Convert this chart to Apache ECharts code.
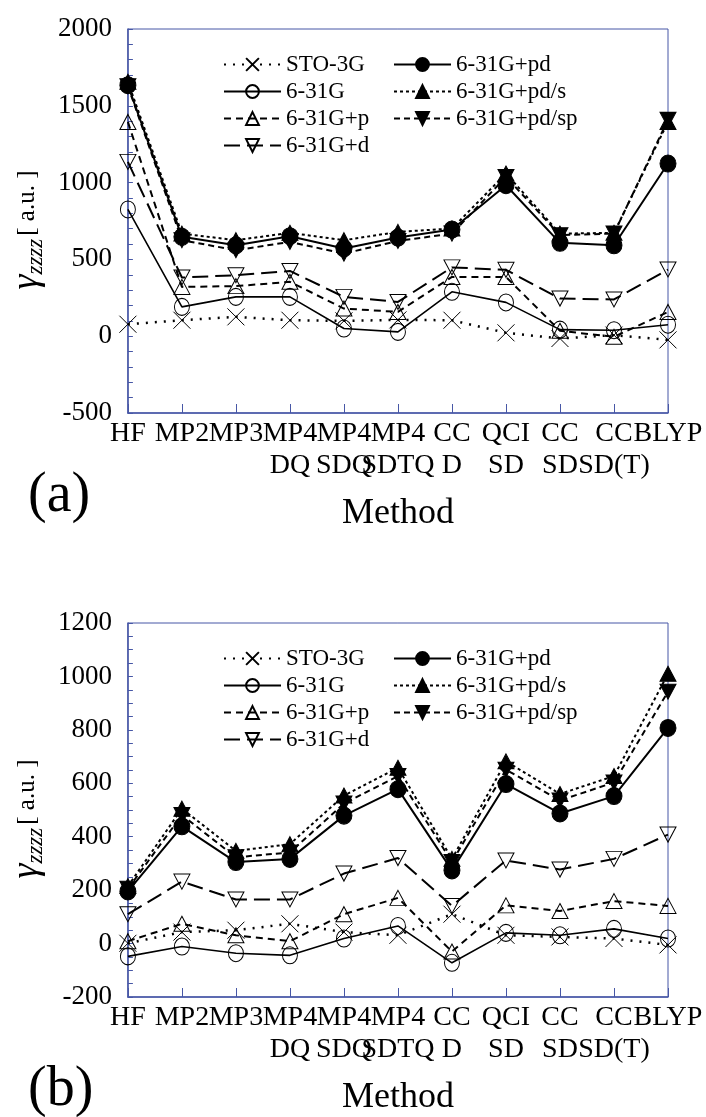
<!DOCTYPE html>
<html>
<head>
<meta charset="utf-8" />
<title>gamma zzzz vs method</title>
<script src="https://cdn.jsdelivr.net/npm/echarts@6/dist/echarts.min.js"></script>
<style>
  html, body { margin: 0; padding: 0; background: #fff; }
  #main { width: 706px; height: 1117px; }
</style>
</head>
<body>
<div id="main"></div>
<script type="text/javascript">

// categories (two-line labels)
var methods = ['HF', 'MP2', 'MP3', 'MP4\nDQ', 'MP4\nSDQ', 'MP4\nSDTQ', 'CC\nD', 'QCI\nSD', 'CC\nSD', 'CC\nSD(T)', 'BLYP'];
var basisNames = ['STO-3G', '6-31G', '6-31G+p', '6-31G+d', '6-31G+pd', '6-31G+pd/s', '6-31G+pd/sp'];

// panel (a)
var a_sto3g  = [78, 104, 126, 104, 100, 106, 104, 22, -15, 7, -24];
var a_631g   = [825, 191, 256, 256, 50, 28, 289, 220, 43, 39, 75];
var a_p      = [1395, 321, 326, 354, 180, 158, 386, 386, 35, -4, 158];
var a_d      = [1135, 382, 397, 425, 256, 223, 448, 432, 245, 239, 434];
var a_pd     = [1634, 647, 592, 651, 571, 642, 694, 983, 608, 592, 1124];
var a_pds    = [1656, 668, 625, 673, 625, 679, 701, 1059, 668, 673, 1395];
var a_pdsp   = [1628, 625, 560, 614, 538, 620, 668, 1037, 658, 668, 1410];

// panel (b)
var b_sto3g  = [1, 43, 50, 74, 43, 31, 110, 31, 25, 19, -5];
var b_631g   = [-48, -11, -36, -44, 19, 66, -72, 40, 31, 55, 19];
var b_p      = [9, 74, 31, 9, 110, 171, -30, 143, 122, 159, 141];
var b_d      = [110, 232, 165, 165, 262, 320, 141, 311, 277, 317, 408];
var b_pd     = [195, 439, 305, 317, 479, 578, 274, 597, 487, 552, 807];
var b_pds    = [215, 505, 347, 372, 554, 658, 317, 682, 560, 627, 1010];
var b_pdsp   = [205, 481, 323, 341, 524, 627, 305, 651, 536, 603, 943];

// y axis ticks
var a_yTicks = { min: -500, max: 2000, step: 500 };
var b_yTicks = { min: -200, max: 1200, step: 200 };

var FONT = '"Liberation Serif", "Times New Roman", serif';
var AXIS_BLUE = '#4757a6';
var SHIFT = 594;   // vertical offset of panel (b)

var symX = 'path://M0,0L16,16M16,0L0,16';
var symUp = 'path://M9,0L18,16L0,16Z';
var symDown = 'path://M0,0L18,0L9,16Z';

var open = { color: 'rgba(0,0,0,0)', borderColor: '#000', borderWidth: 1 };
var filled = { color: '#000', borderColor: '#000', borderWidth: 1 };

var styles = {
    'STO-3G':      { symbol: symX, size: [17, 17], item: open, line: { type: [2, 7], width: 2.5 } },
    '6-31G':       { symbol: 'circle', size: [15, 17], item: open, line: { type: 'solid', width: 1.6 } },
    '6-31G+p':     { symbol: symUp, size: [16, 15], item: open, line: { type: [7, 5], width: 2 } },
    '6-31G+d':     { symbol: symDown, size: [16, 15], item: open, line: { type: [16, 7], width: 2 } },
    '6-31G+pd':    { symbol: 'circle', size: [16, 17], item: filled, line: { type: 'solid', width: 2 } },
    '6-31G+pd/s':  { symbol: symUp, size: [16, 15], item: filled, line: { type: [3, 3], width: 2 } },
    '6-31G+pd/sp': { symbol: symDown, size: [16, 15], item: filled, line: { type: [6, 4], width: 2 } }
};

function makeSeries(name, data, idx) {
    var st = styles[name];
    return {
        name: name,
        type: 'line',
        xAxisIndex: idx,
        yAxisIndex: idx,
        data: data,
        symbol: st.symbol,
        symbolSize: st.size,
        showAllSymbol: true,
        itemStyle: st.item,
        lineStyle: { color: '#000', width: st.line.width, type: st.line.type },
        emphasis: { disabled: true }
    };
}

function makeX(idx) {
    return {
        type: 'category',
        gridIndex: idx,
        data: methods,
        boundaryGap: false,
        axisLine: { onZero: false, lineStyle: { color: AXIS_BLUE, width: 1.5 } },
        axisTick: { inside: true, length: 9, lineStyle: { color: AXIS_BLUE } },
        axisLabel: { interval: 0, color: '#000', fontFamily: FONT, fontSize: 28, lineHeight: 32, margin: 5 },
        splitLine: { show: false },
        name: 'Method',
        nameLocation: 'middle',
        nameGap: 83,
        nameTextStyle: { color: '#000', fontFamily: FONT, fontSize: 36 }
    };
}

function makeY(idx, t, minorSplit) {
    return {
        type: 'value',
        gridIndex: idx,
        min: t.min,
        max: t.max,
        interval: t.step,
        axisLine: { show: true, onZero: false, lineStyle: { color: AXIS_BLUE, width: 1.5 } },
        axisTick: { show: true, inside: true, length: 5, lineStyle: { color: AXIS_BLUE } },
        minorTick: { show: true, splitNumber: minorSplit, length: 5, lineStyle: { color: AXIS_BLUE } },
        axisLabel: {
            color: '#000', fontFamily: FONT, fontSize: 27, margin: 16,
            formatter: function (v) { return String(v); }
        },
        splitLine: { show: false },
        name: '{g|γ}{s|zzzz} {n|[ a.u. ]}',
        nameLocation: 'middle',
        nameGap: 74,
        nameTextStyle: {
            color: '#000',
            fontFamily: FONT,
            padding: [0, 18, 0, 0],
            rich: {
                g: { fontSize: 38, fontStyle: 'italic', fontFamily: FONT, lineHeight: 40 },
                s: { fontSize: 23, fontStyle: 'italic', fontFamily: FONT, lineHeight: 22, verticalAlign: 'bottom' },
                n: { fontSize: 25, fontFamily: FONT, lineHeight: 25 }
            }
        }
    };
}

function makeLegend(names, left, top) {
    return {
        orient: 'vertical',
        left: left,
        top: top,
        padding: 0,
        itemWidth: 57,
        itemHeight: 16,
        itemGap: 4,
        selectedMode: false,
        data: names,
        textStyle: { color: '#000', fontFamily: FONT, fontSize: 23, lineHeight: 22 }
    };
}

var col1 = ['STO-3G', '6-31G', '6-31G+p', '6-31G+d'];
var col2 = ['6-31G+pd', '6-31G+pd/s', '6-31G+pd/sp'];

var aData = [a_sto3g, a_631g, a_p, a_d, a_pd, a_pds, a_pdsp];
var bData = [b_sto3g, b_631g, b_p, b_d, b_pd, b_pds, b_pdsp];

var series = [];
basisNames.forEach(function (n, i) { series.push(makeSeries(n, aData[i], 0)); });
basisNames.forEach(function (n, i) { series.push(makeSeries(n, bData[i], 1)); });

var myChart = echarts.init(document.getElementById('main'));

var option = {
    animation: false,
    backgroundColor: '#fff',
    grid: [
        { left: 105, top: 29, width: 563, height: 384, show: true, borderColor: AXIS_BLUE, borderWidth: 1 },
        { left: 105, top: 29 + SHIFT, width: 563, height: 384, show: true, borderColor: AXIS_BLUE, borderWidth: 1 }
    ],
    xAxis: [makeX(0), makeX(1)],
    yAxis: [makeY(0, a_yTicks, 5), makeY(1, b_yTicks, 4)],
    legend: [
        makeLegend(col1, 223, 53),
        makeLegend(col2, 393, 53),
        makeLegend(col1, 223, 53 + SHIFT),
        makeLegend(col2, 393, 53 + SHIFT)
    ],
    graphic: [
        { type: 'text', left: 28, top: 468, style: { text: '(a)', font: '56px "Liberation Serif"', fill: '#000' } },
        { type: 'text', left: 28, top: 468 + SHIFT, style: { text: '(b)', font: '56px "Liberation Serif"', fill: '#000' } }
    ],
    series: series
};

myChart.setOption(option);

</script>
</body>
</html>
